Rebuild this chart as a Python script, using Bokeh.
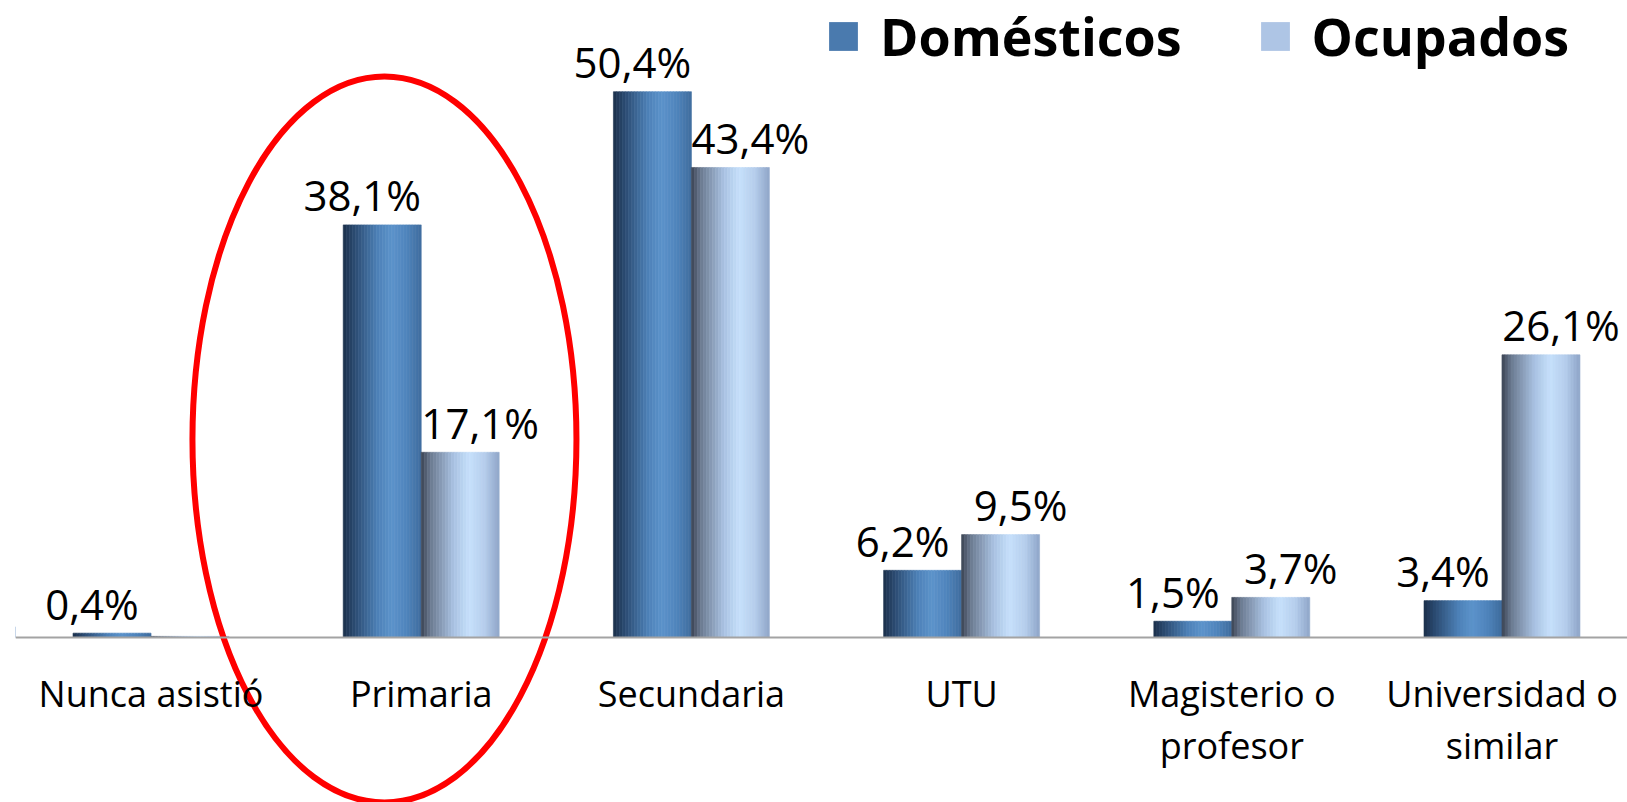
from bokeh.plotting import figure
from bokeh.models import Range1d, FixedTicker, Legend, LegendItem, ColumnDataSource
from bokeh.core.properties import value
from bokeh.embed import file_html
from bokeh.resources import INLINE

# ---- data ----
categories = ["Nunca asistió", "Primaria", "Secundaria", "UTU", "Magisterio o\nprofesor", "Universidad o\nsimilar"]
domesticos = [0.4, 38.1, 50.4, 6.2, 1.5, 3.4]
ocupados = [0.1, 17.1, 43.4, 9.5, 3.7, 26.1]
dom_labels = ["0,4%", "38,1%", "50,4%", "6,2%", "1,5%", "3,4%"]
ocu_labels = ["", "17,1%", "43,4%", "9,5%", "3,7%", "26,1%"]
series_names = ["Domésticos", "Ocupados"]

FONT = "Open Sans"
BAR_W = 0.2885
N_STRIPS = 26

dom_stops = [(0.0, (27, 47, 74)), (0.15, (44, 76, 115)), (0.45, (78, 130, 185)),
             (0.62, (92, 147, 203)), (0.82, (79, 132, 187)), (1.0, (63, 108, 158))]
ocu_stops = [(0.0, (58, 67, 82)), (0.12, (107, 122, 144)), (0.42, (169, 194, 226)),
             (0.62, (198, 224, 251)), (0.82, (181, 205, 236)), (1.0, (143, 166, 200))]


def grad(stops, t):
    for (t0, c0), (t1, c1) in zip(stops[:-1], stops[1:]):
        if t0 <= t <= t1:
            f = (t - t0) / (t1 - t0)
            c = [round(a + (b - a) * f) for a, b in zip(c0, c1)]
            return "#%02x%02x%02x" % tuple(c)
    return "#%02x%02x%02x" % stops[-1][1]


xs = list(range(len(categories)))

p = figure(width=1627, height=802, output_backend="svg", toolbar_location=None,
           x_range=Range1d(-0.5015, 5.4645), y_range=Range1d(-15.24, 58.82),
           min_border_left=15, min_border_right=0, min_border_top=0, min_border_bottom=0)
p.outline_line_color = None
p.grid.visible = False
p.yaxis.visible = False
p.background_fill_color = "white"

# gradient bars, built as strips from the series values
for vals, shift, stops in ((domesticos, -BAR_W / 2, dom_stops), (ocupados, BAR_W / 2, ocu_stops)):
    sw = BAR_W / N_STRIPS
    for j in range(N_STRIPS):
        t = (j + 0.5) / N_STRIPS
        col = grad(stops, t)
        src = ColumnDataSource(dict(x=[i + shift - BAR_W / 2 + (j + 0.5) * sw for i in xs], top=vals))
        p.vbar(x="x", top="top", bottom=0, width=sw * 1.02, source=src,
               fill_color=col, line_color=col, line_width=0.6)

# data labels
p.text(x=[i - BAR_W / 2 for i in xs], y=domesticos, text=dom_labels, x_offset=-20, y_offset=-30,
       text_align="center", text_baseline="alphabetic", text_font=value(FONT),
       text_font_size="42px", text_color="black")
p.text(x=[i + BAR_W / 2 for i in xs], y=ocupados, text=ocu_labels, x_offset=20, y_offset=-30,
       text_align="center", text_baseline="alphabetic", text_font=value(FONT),
       text_font_size="42px", text_color="black")

# x axis at zero
p.xaxis.fixed_location = 0
p.xaxis.ticker = FixedTicker(ticks=xs)
p.xaxis.major_label_overrides = {i: c for i, c in zip(xs, categories)}
p.xaxis.major_label_text_font = FONT
p.xaxis.major_label_text_font_size = "36px"
p.xaxis.major_label_text_color = "black"
p.xaxis.major_label_text_line_height = 1.06
p.xaxis.major_label_standoff = 26
p.xaxis.major_tick_line_color = None
p.xaxis.minor_tick_line_color = None
p.xaxis.axis_line_color = "#a3a3a3"
p.xaxis.axis_line_width = 2

# red ellipse highlighting "Primaria"
p.ellipse(x=[0.864], y=[18.28], width=[384], height=[726], width_units="screen",
          height_units="screen", fill_color=None, line_color="#ff0000", line_width=6)

# legend (swatch renderers sit outside the visible range)
r_dom = p.vbar(x=[-10], top=[1], width=0.1, fill_color="#4a7aae", line_color=None)
r_ocu = p.vbar(x=[-10], top=[1], width=0.1, fill_color="#aec5e5", line_color=None)
legend = Legend(items=[LegendItem(label=series_names[0], renderers=[r_dom]),
                       LegendItem(label=series_names[1], renderers=[r_ocu])],
                orientation="horizontal", location=(810, 731),
                glyph_width=36, glyph_height=36, label_standoff=19, spacing=75,
                padding=0, margin=0, border_line_color=None, background_fill_alpha=0,
                label_text_font=FONT, label_text_font_style="bold",
                label_text_font_size="52px", label_text_color="black")
p.add_layout(legend)

open("out.html", "w").write(file_html(p, INLINE))
